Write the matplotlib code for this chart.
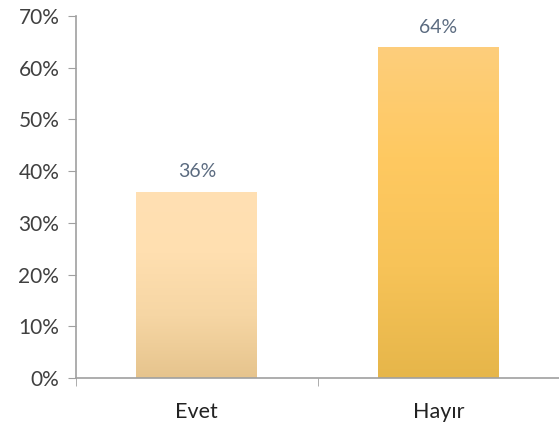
import matplotlib
matplotlib.use("Agg")
import matplotlib.pyplot as plt
import numpy as np
from matplotlib.colors import LinearSegmentedColormap

categories = ["Evet", "Hayır"]
values = [36, 64]
labels = ["36%", "64%"]
yticks = [0, 10, 20, 30, 40, 50, 60, 70]
ytick_labels = ["0%", "10%", "20%", "30%", "40%", "50%", "60%", "70%"]

grad_colors = [
    ["#E6C48D", "#F6D6A4", "#FFDFB0", "#FFE0B3"],   # bottom -> top
    ["#E6B64A", "#F7C358", "#FFC961", "#FDCE7C"],
]

plt.rcParams['font.family'] = ['Lato', 'DejaVu Sans']

fig = plt.figure(figsize=(5.59, 4.30), dpi=100)
ax = fig.add_axes([0.136, 0.121, 0.864, 0.842])

x = np.arange(len(categories))
width = 0.5
bars = ax.bar(x, values, width=width, color="none", edgecolor="none", zorder=2)
grad = np.linspace(0, 1, 256).reshape(-1, 1)
for i, b in enumerate(bars):
    cmap = LinearSegmentedColormap.from_list(f"g{i}", grad_colors[i])
    im = ax.imshow(grad, cmap=cmap, origin="lower", aspect="auto",
                   extent=[b.get_x(), b.get_x() + b.get_width(), 0, b.get_height()],
                   zorder=2)
    im.set_clip_path(b)
    ax.text(b.get_x() + b.get_width() / 2, b.get_height() + 2.2, labels[i],
            ha="center", va="bottom", fontsize=14, color="#5B6B80")

ax.set_xlim(-0.5, 1.5)
ax.set_ylim(0, 70)
ax.set_yticks(yticks)
ax.set_yticklabels(ytick_labels, fontsize=15, color="#404040")
ax.set_xticks(x)
ax.set_xticklabels(categories, fontsize=15.5, color="#222222")
ax.set_xticks([-0.5, 0.5, 1.5], minor=True)
ax.tick_params(axis="x", which="major", length=0, pad=17)
ax.tick_params(axis="x", which="minor", length=6, color="#A0A0A0", direction="out")
ax.tick_params(axis="y", length=6, color="#A0A0A0", direction="out", pad=6)

for s in ["top", "right"]:
    ax.spines[s].set_visible(False)
for s in ["left", "bottom"]:
    ax.spines[s].set_color("#A0A0A0")
    ax.spines[s].set_linewidth(1.2)

fig.savefig("out.png", dpi=100, facecolor="white")
